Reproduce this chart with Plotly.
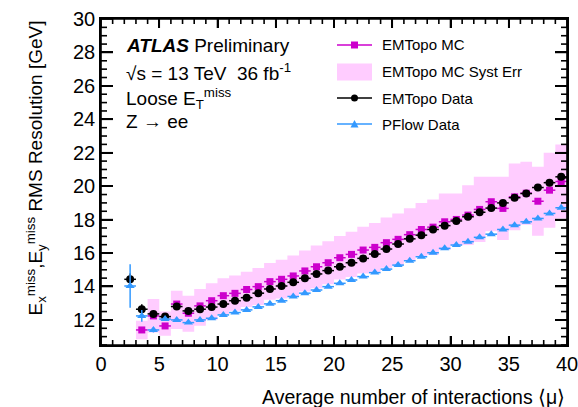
import plotly.graph_objects as go

# ---------------- data ----------------
mc_mu = [3.5, 4.5, 5.5, 6.5, 7.5, 8.5, 9.5, 10.5, 11.5, 12.5, 13.5, 14.5, 15.5, 16.5,
         17.5, 18.5, 19.5, 20.5, 21.5, 22.5, 23.5, 24.5, 25.5, 26.5, 27.5, 28.5, 29.5,
         30.5, 31.5, 32.5, 33.5, 34.5, 35.5, 36.5, 37.5, 38.5, 39.5]
mc_res = [11.40, 12.24, 11.64, 12.95, 12.40, 12.84, 13.15, 13.45, 13.59, 13.82, 13.99,
          14.29, 14.43, 14.63, 14.93, 15.18, 15.42, 15.72, 15.92, 16.18, 16.34, 16.62,
          16.82, 17.10, 17.41, 17.55, 17.87, 18.01, 18.27, 18.61, 19.07, 18.67, 19.36,
          19.58, 19.10, 19.76, 20.28]
syst_lo = [10.85, 11.25, 11.05, 11.45, 11.30, 11.65, 12.00, 12.35, 12.55, 12.78, 12.90,
           13.20, 13.28, 13.42, 13.70, 13.90, 14.14, 14.42, 14.57, 14.78, 14.88, 15.12,
           15.27, 15.52, 15.82, 15.90, 16.18, 16.46, 16.48, 16.66, 17.30, 16.78, 17.36,
           17.70, 17.04, 17.52, 18.06]
syst_hi = [11.95, 13.25, 12.50, 13.75, 13.45, 13.85, 14.20, 14.50, 14.65, 14.88, 15.10,
           15.40, 15.60, 15.85, 16.15, 16.45, 16.70, 17.02, 17.27, 17.58, 17.80, 18.12,
           18.37, 18.68, 19.00, 19.20, 19.56, 19.56, 20.06, 20.56, 20.56, 20.56, 21.36,
           21.46, 21.16, 22.00, 22.50]

data_mu = [2.5] + mc_mu
emtopo_data = [14.43, 12.64, 12.36, 12.20, 12.80, 12.54, 12.64, 12.77, 12.95, 13.15,
               13.33, 13.60, 13.85, 14.03, 14.25, 14.49, 14.75, 14.95, 15.18, 15.42,
               15.68, 15.94, 16.24, 16.54, 16.85, 17.07, 17.41, 17.64, 17.92, 18.17,
               18.44, 18.69, 19.00, 19.31, 19.56, 19.92, 20.21, 20.56]
emtopo_err = [0.35, 0.30, 0.15, 0.10] + [0.05] * 34
pflow_data = [14.03, 12.24, 11.40, 12.05, 12.00, 11.84, 12.00, 12.10, 12.30, 12.44,
              12.60, 12.78, 12.96, 13.15, 13.40, 13.60, 13.79, 13.99, 14.19, 14.39,
              14.59, 14.83, 15.04, 15.28, 15.54, 15.78, 16.02, 16.28, 16.48, 16.68,
              16.94, 17.13, 17.41, 17.67, 17.87, 18.07, 18.37, 18.71]
pflow_err = [1.30, 0.35, 0.15, 0.10] + [0.05] * 34

bin_half = 0.5

x_range = [0, 40]
y_range = [10.5, 30]
x_major = [0, 5, 10, 15, 20, 25, 30, 35, 40]
y_major = [12, 14, 16, 18, 20, 22, 24, 26, 28, 30]
x_minor = [v for v in range(0, 41) if v % 5 != 0]
y_minor = [10.5 + 0.5 * i for i in range(40) if (10.5 + 0.5 * i) % 2 != 0]

legend_labels = ["EMTopo MC", "EMTopo MC Syst Err", "EMTopo Data", "PFlow Data"]

# ---------------- style ----------------
MAG = "#cc00cc"
PINK = "#ffccff"
BLK = "#000000"
BLUE = "#3399ff"
FONT = "Liberation Sans, Arial, Helvetica, sans-serif"
LW = 1.6

fig = go.Figure()

# systematic band as per-bin boxes (step outline)
bx, by = [], []
for m, h in zip(mc_mu, syst_hi):
    bx += [m - bin_half, m + bin_half]
    by += [h, h]
for m, l in zip(reversed(mc_mu), reversed(syst_lo)):
    bx += [m + bin_half, m - bin_half]
    by += [l, l]
fig.add_trace(go.Scatter(x=bx, y=by, fill="toself", fillcolor=PINK, mode="lines",
                         line=dict(width=0), hoverinfo="skip", showlegend=False))

fig.add_trace(go.Scatter(
    x=mc_mu, y=mc_res, mode="markers",
    marker=dict(symbol="square", size=7, color=MAG),
    error_x=dict(type="constant", value=bin_half, width=0, thickness=1.5, color=MAG),
    error_y=dict(type="constant", value=0.05, width=0, thickness=1.5, color=MAG),
    showlegend=False))

fig.add_trace(go.Scatter(
    x=data_mu, y=emtopo_data, mode="markers",
    marker=dict(symbol="circle", size=8, color=BLK),
    error_x=dict(type="constant", value=bin_half, width=0, thickness=1.5, color=BLK),
    error_y=dict(type="data", array=emtopo_err, width=0, thickness=1.5, color=BLK),
    showlegend=False))

fig.add_trace(go.Scatter(
    x=data_mu, y=pflow_data, mode="markers",
    marker=dict(symbol="triangle-up", size=8, color=BLUE),
    error_x=dict(type="constant", value=bin_half, width=0, thickness=1.5, color=BLUE),
    error_y=dict(type="data", array=pflow_err, width=0, thickness=1.5, color=BLUE),
    showlegend=False))

# pixel -> paper helpers (plot area 101..567 x 19..345)
L, R, T, B = 101, 567, 19, 345
W, H = R - L, B - T
def PX(p):
    return (p - L) / W
def PY(p):
    return (B - p) / H

shapes = []
ann = []

def S(**kw):
    kw.setdefault("opacity", 1)
    kw.setdefault("layer", "above")
    shapes.append(kw)

# legend (manual)
leg_y = [45, 72, 98, 124]
x0, x1 = 337, 372
xc = (x0 + x1) / 2
S(type="line", xref="paper", yref="paper", x0=PX(x0), x1=PX(x1),
  y0=PY(leg_y[0]), y1=PY(leg_y[0]), line=dict(color=MAG, width=1.5))
S(type="rect", xref="paper", yref="paper", x0=PX(xc - 3.5), x1=PX(xc + 3.5),
  y0=PY(leg_y[0] + 3.5), y1=PY(leg_y[0] - 3.5), fillcolor=MAG, line=dict(width=0))
S(type="rect", xref="paper", yref="paper", x0=PX(x0), x1=PX(x1),
  y0=PY(leg_y[1] + 8.5), y1=PY(leg_y[1] - 8.5), fillcolor=PINK, line=dict(width=0))
S(type="line", xref="paper", yref="paper", x0=PX(x0), x1=PX(x1),
  y0=PY(leg_y[2]), y1=PY(leg_y[2]), line=dict(color=BLK, width=1.5))
S(type="circle", xref="paper", yref="paper", x0=PX(xc - 3.5), x1=PX(xc + 3.5),
  y0=PY(leg_y[2] + 3.5), y1=PY(leg_y[2] - 3.5), fillcolor=BLK, line=dict(width=0))
S(type="line", xref="paper", yref="paper", x0=PX(x0), x1=PX(x1),
  y0=PY(leg_y[3]), y1=PY(leg_y[3]), line=dict(color=BLUE, width=1.5))
tri = "M {} {} L {} {} L {} {} Z".format(PX(xc - 4), PY(leg_y[3] + 3.5), PX(xc + 4),
                                        PY(leg_y[3] + 3.5), PX(xc), PY(leg_y[3] - 4))
S(type="path", xref="paper", yref="paper", path=tri, fillcolor=BLUE, line=dict(width=0))

# frame and inside ticks on all four sides (axis furniture)
S(type="rect", xref="paper", yref="paper", x0=0, x1=1, y0=0, y1=1,
  line=dict(color="black", width=LW), fillcolor="rgba(0,0,0,0)")
for vals, ln in ((x_major, 9), (x_minor, 5)):
    for v in vals:
        S(type="line", xref="x", yref="paper", x0=v, x1=v, y0=0, y1=ln / H,
          line=dict(color="black", width=LW))
        S(type="line", xref="x", yref="paper", x0=v, x1=v, y0=1, y1=1 - ln / H,
          line=dict(color="black", width=LW))
for vals, ln in ((y_major, 12), (y_minor, 6)):
    for v in vals:
        S(type="line", xref="paper", yref="y", x0=0, x1=ln / W, y0=v, y1=v,
          line=dict(color="black", width=LW))
        S(type="line", xref="paper", yref="y", x0=1, x1=1 - ln / W, y0=v, y1=v,
          line=dict(color="black", width=LW))

for lab, yy in zip(legend_labels, leg_y):
    ann.append(dict(text=lab, xref="paper", yref="paper", x=PX(380), y=PY(yy),
                    xanchor="left", yanchor="middle", showarrow=False,
                    font=dict(family=FONT, size=15, color="black")))

atlas_lines = [("<b><i>ATLAS</i></b> Preliminary", 46),
               ("\u221as = 13 TeV  36 fb<sup>-1</sup>", 72),
               ("Loose E<sub>T</sub><sup>miss</sup>", 98),
               ("Z \u2192 ee", 122)]
for txt, yy in atlas_lines:
    ann.append(dict(text=txt, xref="paper", yref="paper", x=PX(124), y=PY(yy),
                    xanchor="left", yanchor="middle", showarrow=False,
                    font=dict(family=FONT, size=19, color="black")))

ann.append(dict(text="Average number of interactions \u27e8\u03bc\u27e9", xref="paper",
                yref="paper", x=PX(567), y=PY(397), xanchor="right", yanchor="middle",
                showarrow=False, font=dict(family=FONT, size=19.5, color="black")))
ann.append(dict(text="E<sub>x</sub><sup>miss</sup>,E<sub>y</sub><sup>miss</sup> RMS Resolution [GeV]",
                xref="paper", yref="paper", x=PX(36), y=PY(19), xanchor="center",
                yanchor="top", textangle=-90, showarrow=False,
                font=dict(family=FONT, size=19, color="black")))

fig.update_layout(
    width=578, height=407,
    margin=dict(l=L, r=578 - R, t=T, b=407 - B),
    paper_bgcolor="white", plot_bgcolor="white",
    showlegend=False,
    shapes=shapes, annotations=ann,
    xaxis=dict(range=x_range, showline=True, linecolor="black", linewidth=LW, mirror="ticks",
               ticks="inside", ticklen=9, tickwidth=LW, tickcolor="black",
               tickmode="array", tickvals=x_major,
               ticklabeloverflow="allow", automargin=False, showgrid=False,
               zeroline=False, tickfont=dict(family=FONT, size=20, color="black")),
    yaxis=dict(range=y_range, showline=True, linecolor="black", linewidth=LW, mirror="ticks",
               ticks="inside", ticklen=12, tickwidth=LW, tickcolor="black",
               tickmode="array", tickvals=y_major,
               ticklabeloverflow="allow", automargin=False, showgrid=False,
               zeroline=False, tickfont=dict(family=FONT, size=20, color="black")),
)

fig.write_html("out.html", config={"displayModeBar": False},
               post_script="document.body.style.margin='0';document.body.style.padding='0';")
